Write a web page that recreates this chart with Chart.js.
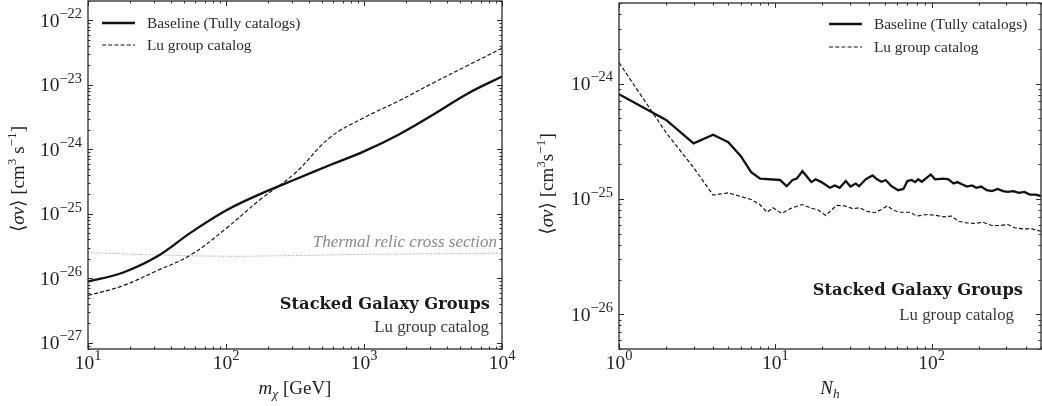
<!DOCTYPE html>
<html>
<head>
<meta charset="utf-8">
<script src="https://cdn.jsdelivr.net/npm/chart.js@4.4.1/dist/chart.umd.min.js"></script>
<style>
  html, body { margin: 0; padding: 0; background: #fff; }
  #wrap { position: relative; width: 1042px; height: 406px; overflow: hidden; }
  canvas { position: absolute; top: 0; }
  #massChart { left: 0; }
  #groupChart { left: 520px; }
</style>
</head>
<body>
<div id="wrap">
  <canvas id="massChart" width="520" height="406"></canvas>
  <canvas id="groupChart" width="522" height="406"></canvas>
</div>
<script>
// ---- Left panel: limit vs. dark-matter mass (quarter-decade grid in GeV) ----
const massGeV = [10, 17.8, 31.6, 56.2, 100, 178, 316, 562, 1000, 1778, 3162, 5623, 10000];
const sigmaBaseline = [8.9e-27, 1.22e-26, 2.17e-26, 5.2e-26, 1.13e-25, 2.04e-25, 3.4e-25, 5.66e-25,
  9.3e-25, 1.69e-24, 3.45e-24, 7.31e-24, 1.35e-23];
const sigmaLu = [5.4e-27, 7.64e-27, 1.31e-26, 2.34e-26, 5.92e-26, 1.68e-25, 4.26e-25, 1.5e-24,
  3.1e-24, 5.6e-24, 1.07e-23, 1.99e-23, 3.7e-23];

const massThermal = [10, 31.6, 100, 316, 1000, 3162, 10000];
const sigmaThermal = [2.5e-26, 2.3e-26, 2.2e-26, 2.25e-26, 2.35e-26, 2.4e-26, 2.45e-26];

const massTickExponents = [1, 2, 3, 4];
const massSigmaTickExponents = [-27, -26, -25, -24, -23, -22];

// ---- Right panel: limit vs. number of stacked halos ----
const nhBaseline = [1, 2, 3, 4, 5, 6, 7, 8, 10.7, 11.8, 12.9, 13.7, 14.9, 17, 18.1, 19.7, 22.3, 24,
  25.8, 28.2, 30.2, 32.7, 34.3, 37.8, 41.8, 44.7, 47.7, 50.8, 55.3, 61, 65.9, 70, 74.6, 78.3, 81.9, 86.5,
  93.1, 98.7, 105, 119, 128, 138, 146, 156, 168, 181, 193, 207, 225, 243, 264, 286, 306, 334, 360, 391,
  424, 461, 500];
const nhSigmaBaseline = [8.08e-25, 4.84e-25, 3.03e-25, 3.60e-25, 3.11e-25, 2.36e-25, 1.71e-25, 1.50e-25,
  1.46e-25, 1.29e-25, 1.46e-25, 1.50e-25, 1.74e-25, 1.40e-25, 1.48e-25, 1.40e-25, 1.25e-25, 1.31e-25,
  1.25e-25, 1.43e-25, 1.28e-25, 1.36e-25, 1.29e-25, 1.48e-25, 1.60e-25, 1.48e-25, 1.41e-25, 1.46e-25,
  1.29e-25, 1.19e-25, 1.22e-25, 1.43e-25, 1.46e-25, 1.40e-25, 1.48e-25, 1.41e-25, 1.53e-25, 1.63e-25,
  1.48e-25, 1.50e-25, 1.48e-25, 1.36e-25, 1.40e-25, 1.34e-25, 1.28e-25, 1.31e-25, 1.25e-25, 1.28e-25,
  1.19e-25, 1.17e-25, 1.22e-25, 1.17e-25, 1.15e-25, 1.17e-25, 1.13e-25, 1.15e-25, 1.09e-25, 1.09e-25,
  1.06e-25];

const nhLu = [1, 2, 3, 4, 5, 6, 7, 7.95, 8.86, 9.66, 11, 12.4, 14.8, 16.6, 18.8, 21, 24.6, 27.8, 31.4, 34.7,
  38.3, 43.2, 47.7, 51.9, 56.9, 62, 72.6, 80.1, 92.9, 107, 119, 134, 148, 167, 189, 213, 242, 273, 308, 340,
  385, 435, 500];
const nhSigmaLu = [1.52e-24, 3.76e-25, 1.87e-25, 1.08e-25, 1.13e-25, 1.05e-25, 9.9e-26, 8.95e-26, 7.67e-26,
  8.4e-26, 7.48e-26, 8.22e-26, 8.95e-26, 8.4e-26, 8.0e-26, 7.2e-26, 8.8e-26, 8.7e-26, 8.22e-26, 8.4e-26,
  7.83e-26, 7.59e-26, 8.1e-26, 8.7e-26, 8.0e-26, 7.67e-26, 7.67e-26, 7.1e-26, 7.33e-26, 7.2e-26, 7.0e-26,
  7.1e-26, 6.41e-26, 6.21e-26, 6.12e-26, 6.29e-26, 5.88e-26, 5.88e-26, 6.0e-26, 5.62e-26, 5.5e-26, 5.5e-26,
  5.25e-26];

const nhTickExponents = [0, 1, 2];
const nhSigmaTickExponents = [-26, -25, -24];

const seriesLabels = ['Baseline (Tully catalogs)', 'Lu group catalog'];
const panelTitle = 'Stacked Galaxy Groups';
const panelSubtitle = 'Lu group catalog';
const thermalLabel = 'Thermal relic cross section';

// ---- drawing helpers ----
const SERIF = "'Liberation Serif', 'DejaVu Serif', serif";
const BOLD_SERIF = "'DejaVu Serif', 'Liberation Serif', serif";
const INK = '#1a1a1a';

const toPoints = (xs, ys) => xs.map((x, i) => ({ x, y: ys[i] }));

function runFont(r, base) {
  const size = base.size * (r.scale || 1);
  return (r.italic ? 'italic ' : '') + (r.bold ? 'bold ' : '') + size + 'px ' + (r.family || base.family);
}
function richWidth(ctx, runs, base) {
  let w = 0;
  for (const r of runs) { ctx.font = runFont(r, base); w += ctx.measureText(r.t).width; }
  return w;
}
function drawRich(ctx, runs, base, x, y, align) {
  const w = richWidth(ctx, runs, base);
  let cx = align === 'center' ? x - w / 2 : align === 'right' ? x - w : x;
  ctx.textAlign = 'left';
  ctx.textBaseline = 'alphabetic';
  ctx.fillStyle = base.color || INK;
  for (const r of runs) {
    ctx.font = runFont(r, base);
    ctx.fillText(r.t, cx, y - (r.rise || 0) * base.size);
    cx += ctx.measureText(r.t).width;
  }
}
const powerRuns = (e) => [{ t: '10' }, { t: (e < 0 ? '\u2212' : '') + Math.abs(e), scale: 0.74, rise: 0.45 }];

function logTicks(min, max) {
  const out = [];
  const lo = Math.floor(Math.log10(min)), hi = Math.ceil(Math.log10(max));
  for (let e = lo; e <= hi; e++) {
    for (let k = 1; k <= 9; k++) {
      const v = k * Math.pow(10, e);
      if (v >= min * 0.9999 && v <= max * 1.0001) out.push({ v, major: k === 1 });
    }
  }
  return out;
}

// Frame, inward ticks on all four sides, tick labels, axis titles, legend and annotations
function decorations(spec) {
  return {
    id: 'decor',
    afterDraw(chart) {
      const ctx = chart.ctx;
      const a = chart.chartArea;
      const xs = chart.scales.x, ys = chart.scales.y;
      ctx.save();

      // inward ticks
      ctx.strokeStyle = '#2a2a2a';
      ctx.lineWidth = 1;
      ctx.beginPath();
      for (const t of logTicks(xs.min, xs.max)) {
        const px = Math.round(xs.getPixelForValue(t.v)) + 0.5;
        const len = t.major ? 5 : 2.5;
        ctx.moveTo(px, a.bottom); ctx.lineTo(px, a.bottom - len);
        ctx.moveTo(px, a.top); ctx.lineTo(px, a.top + len);
      }
      for (const t of logTicks(ys.min, ys.max)) {
        const py = Math.round(ys.getPixelForValue(t.v)) + 0.5;
        const len = t.major ? 5 : 2.5;
        ctx.moveTo(a.left, py); ctx.lineTo(a.left + len, py);
        ctx.moveTo(a.right, py); ctx.lineTo(a.right - len, py);
      }
      ctx.stroke();

      // frame
      ctx.lineWidth = 1.3;
      ctx.strokeStyle = '#2a2a2a';
      ctx.strokeRect(a.left, a.top, a.right - a.left, a.bottom - a.top);

      // tick labels
      const tickBase = { size: 19.5, family: SERIF, color: '#222' };
      for (const e of spec.xExp) {
        const px = xs.getPixelForValue(Math.pow(10, e));
        drawRich(ctx, powerRuns(e), tickBase, px, a.bottom + 19.5, 'center');
      }
      for (const e of spec.yExp) {
        const py = ys.getPixelForValue(Math.pow(10, e));
        drawRich(ctx, powerRuns(e), tickBase, a.left - 6, py + 6.5, 'right');
      }

      // axis titles
      const titleBase = { size: 19, family: SERIF, color: '#222' };
      drawRich(ctx, spec.xTitle, titleBase, (a.left + a.right) / 2, a.bottom + 45, 'center');
      ctx.save();
      ctx.translate(spec.yTitleX, (a.top + a.bottom) / 2 + spec.yTitleShift);
      ctx.rotate(-Math.PI / 2);
      drawRich(ctx, spec.yTitle, titleBase, 0, 0, 'center');
      ctx.restore();

      // legend (drawn from the dataset styles)
      const lg = spec.legend;
      chart.data.datasets.slice(0, 2).forEach((ds, i) => {
        const y = lg.y + i * lg.gap;
        ctx.save();
        ctx.strokeStyle = ds.borderColor;
        ctx.lineWidth = ds.borderWidth;
        ctx.setLineDash(ds.borderDash || []);
        ctx.beginPath();
        ctx.moveTo(lg.x, y); ctx.lineTo(lg.x + 33, y);
        ctx.stroke();
        ctx.restore();
        drawRich(ctx, [{ t: ds.label }], { size: 15.3, family: SERIF, color: '#2a2a2a' }, lg.x + 45, y + 5, 'left');
      });

      // panel annotations
      drawRich(ctx, [{ t: panelTitle, bold: true }], { size: 16.3, family: BOLD_SERIF, color: '#1a1a1a' },
        spec.titleX, spec.titleY, 'right');
      drawRich(ctx, [{ t: panelSubtitle }], { size: 16.8, family: SERIF, color: '#3a3a3a' },
        spec.subX, spec.subY, 'right');

      if (spec.thermal) {
        drawRich(ctx, [{ t: thermalLabel, italic: true }], { size: 17, family: SERIF, color: '#8a8a8a' },
          a.right - 5, spec.thermal.y, 'right');
      }
      ctx.restore();
    }
  };
}

function logAxis(min, max, fit) {
  return {
    type: 'logarithmic', min, max,
    ticks: { display: false },
    grid: { display: false },
    border: { display: false },
    afterFit: fit
  };
}

const solidStyle = { borderColor: '#111', borderWidth: 2.3, pointRadius: 0, fill: false };
const dashedStyle = { borderColor: '#111', borderWidth: 1.15, borderDash: [4, 2.2], pointRadius: 0, fill: false };

new Chart(document.getElementById('massChart'), {
  type: 'line',
  data: {
    datasets: [
      Object.assign({ label: seriesLabels[0], data: toPoints(massGeV, sigmaBaseline), tension: 0.4 }, solidStyle),
      Object.assign({ label: seriesLabels[1], data: toPoints(massGeV, sigmaLu), tension: 0.4 }, dashedStyle),
      { label: thermalLabel, data: toPoints(massThermal, sigmaThermal), borderColor: '#9a9a9a',
        borderWidth: 1, borderDash: [1, 1.6], pointRadius: 0, tension: 0.4 }
    ]
  },
  options: {
    responsive: false, animation: false, devicePixelRatio: 1,
    layout: { padding: { left: 0, right: 18, top: 1, bottom: 0 } },
    scales: {
      x: logAxis(10, 1e4, s => { s.height = 57; }),
      y: logAxis(8e-28, 2e-22, s => { s.width = 88; })
    },
    plugins: { legend: { display: false }, tooltip: { enabled: false } }
  },
  plugins: [decorations({
    xExp: massTickExponents, yExp: massSigmaTickExponents,
    xTitle: [{ t: 'm', italic: true }, { t: '\u03c7', italic: true, scale: 0.7, rise: -0.2 }, { t: ' [GeV]' }],
    yTitle: [{ t: '\u27e8' }, { t: '\u03c3v', italic: true }, { t: '\u27e9 [cm' }, { t: '3', scale: 0.7, rise: 0.42 },
      { t: ' s' }, { t: '\u22121', scale: 0.7, rise: 0.42 }, { t: ']' }],
    yTitleX: 24, yTitleShift: 4,
    legend: { x: 102, y: 23, gap: 22 },
    titleX: 490, titleY: 309, subX: 489, subY: 332,
    thermal: { y: 247 }
  })]
});

new Chart(document.getElementById('groupChart'), {
  type: 'line',
  data: {
    datasets: [
      Object.assign({ label: seriesLabels[0], data: toPoints(nhBaseline, nhSigmaBaseline), tension: 0 }, solidStyle),
      Object.assign({ label: seriesLabels[1], data: toPoints(nhLu, nhSigmaLu), tension: 0 }, dashedStyle)
    ]
  },
  options: {
    responsive: false, animation: false, devicePixelRatio: 1,
    layout: { padding: { left: 0, right: 1, top: 3, bottom: 0 } },
    scales: {
      x: logAxis(1, 500, s => { s.height = 57; }),
      y: logAxis(5e-27, 5e-24, s => { s.width = 99; })
    },
    plugins: { legend: { display: false }, tooltip: { enabled: false } }
  },
  plugins: [decorations({
    xExp: nhTickExponents, yExp: nhSigmaTickExponents,
    xTitle: [{ t: 'N', italic: true }, { t: 'h', italic: true, scale: 0.7, rise: -0.2 }],
    yTitle: [{ t: '\u27e8' }, { t: '\u03c3v', italic: true }, { t: '\u27e9 [cm' }, { t: '3', scale: 0.7, rise: 0.42 },
      { t: 's' }, { t: '\u22121', scale: 0.7, rise: 0.42 }, { t: ']' }],
    yTitleX: 33, yTitleShift: 8,
    legend: { x: 309, y: 24, gap: 23 },
    titleX: 503, titleY: 295, subX: 494, subY: 320,
    thermal: null
  })]
});
</script>
</body>
</html>
